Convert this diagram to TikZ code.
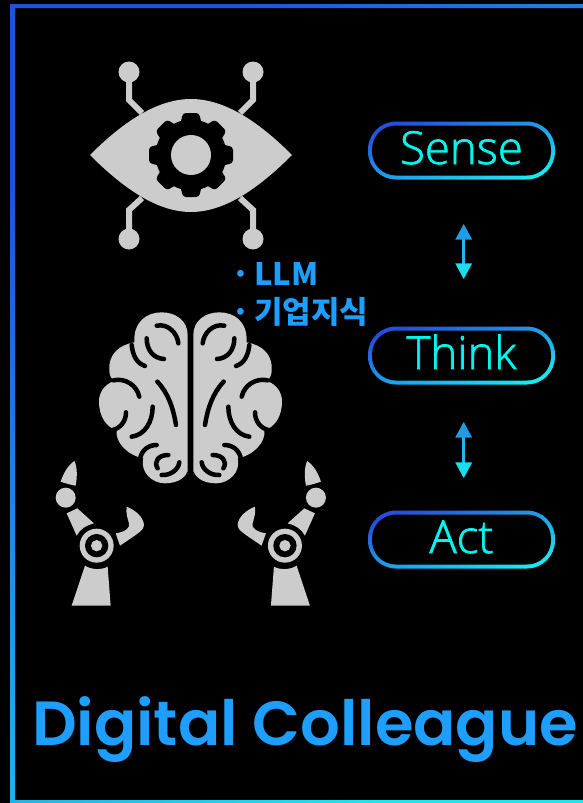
\documentclass[tikz,border=0pt]{standalone}
\usepackage{fontspec}
\usepackage{xcolor}
\usetikzlibrary{arrows.meta}
\newfontfamily\pillfont[FakeBold=1.5]{Open Sans Light}
\newfontfamily\krfont{Noto Sans CJK KR}
\newfontfamily\titlefont{Poppins SemiBold}
\definecolor{iconfill}{HTML}{CCCCCC}
\definecolor{frameblue}{HTML}{2450E0}
\definecolor{framemid}{HTML}{1CA8E8}
\definecolor{pillmid}{HTML}{1CB4EC}
\definecolor{framecyan}{HTML}{18E8F0}
\definecolor{pilltext}{HTML}{00F5EE}
\definecolor{titleblue}{HTML}{1E9FFF}
\definecolor{arrowtop}{HTML}{1F9CE4}
\definecolor{arrowmid}{HTML}{1FB8EA}
\definecolor{arrowbot}{HTML}{1CDCF0}
\tikzset{
    pill/.style={
        rectangle, rounded corners=28pt, minimum width=187pt, minimum height=58pt,
        top color=frameblue, middle color=pillmid, bottom color=framecyan, shading angle=18,
        text=pilltext, text height=32pt, text depth=5pt, font=\pillfont\fontsize{45.5}{45.5}\selectfont,
        path picture={\fill[black, rounded corners=24pt]
            ([shift={(4pt,4pt)}]path picture bounding box.south west) rectangle
            ([shift={(-4pt,-4pt)}]path picture bounding box.north east);}
    },
    dualarrow/.style={
        line width=3.5pt, color=arrowmid,
        {Triangle[length=16pt,width=16pt,color=arrowtop]}-{Triangle[length=16pt,width=16pt,color=arrowbot]}
    },
    point/.style={text=titleblue, font=\krfont\bfseries\fontsize{31}{31}\selectfont, anchor=base west, inner sep=0pt}
}
\begin{document}
\begin{tikzpicture}[x=1pt, y=-1pt]
    \useasboundingbox (0,0) rectangle (583,803);
    \fill[black] (0,0) rectangle (583,803);
    % Outer frame
    \shade[even odd rule, top color=frameblue, middle color=framemid, bottom color=framecyan, shading angle=40]
        (10,4) rectangle (590,809) (15,8) rectangle (590,800);

    % Eye with gear
    \fill[iconfill] (90,155) .. controls (120,125) and (155,99) .. (191,99)
        .. controls (227,99) and (262,125) .. (292,155)
        .. controls (262,185) and (227,212) .. (191,212)
        .. controls (155,212) and (120,185) .. (90,155) -- cycle;
    \foreach \a in {0, 45, ..., 315} {
        \fill[black, shift={(191,155)}, rotate=\a, rounded corners=3pt] (30,-11) -- (42,-8) -- (42,8) -- (30,11) -- cycle;
    }
    \fill[black] (191,155) circle (35.5);
    \fill[iconfill] (191,155) circle (20);
    % Circuit leads
    \foreach \px/\py/\qy/\rx/\ry in {129/72/100/142/113, 253/72/100/240/113, 129/239/210/142/198, 253/239/210/240/198} {
        \fill[iconfill] (\px,\py) circle (10.5);
        \draw[iconfill, line width=6pt] (\px,\py) -- (\px,\qy) -- (\rx,\ry);
    }

    % Brain, one half and its mirror image
    \foreach \sx/\ox in {1/90, -1/291} {
        \begin{scope}[shift={(\ox,255)}, xscale=\sx/3, yscale=1/3]
            \fill[iconfill] (293,660) -- (293,240) .. controls (293,195) and (255,172) .. (215,172)
                .. controls (170,172) and (130,200) .. (133,262)
                .. controls (85,270) and (55,300) .. (58,345) .. controls (58,360) and (62,368) .. (72,378)
                .. controls (40,390) and (27,415) .. (27,440) .. controls (27,485) and (50,518) .. (80,525)
                .. controls (75,560) and (110,600) .. (160,610)
                .. controls (150,650) and (185,685) .. (225,685) .. controls (265,685) and (293,665) .. (293,640) -- cycle;
            \begin{scope}[black, line width=4.5pt, line cap=round]
                \draw (200,212) .. controls (235,205) and (262,235) .. (265,265);
                \draw (170,250) .. controls (170,285) and (190,310) .. (222,312);
                \draw (125,270) .. controls (128,300) and (140,325) .. (165,333);
                \draw (70,376) .. controls (105,368) and (140,390) .. (148,425);
                \draw (202,380) .. controls (235,415) and (250,460) .. (258,510);
                \draw (188,455) .. controls (188,500) and (165,540) .. (125,545);
                \draw (108,472) .. controls (108,500) and (90,520) .. (68,525);
                \draw (200,570) .. controls (175,570) and (155,585) .. (150,612);
                \draw (235,600) .. controls (205,600) and (190,620) .. (203,640);
                \draw (268,622) .. controls (265,645) and (240,662) .. (215,660);
            \end{scope}
        \end{scope}
    }

    % Robot arms, one and its mirror image
    \foreach \sx/\ox in {1/45, -1/336.6} {
        \begin{scope}[shift={(\ox,455)}, xscale=\sx/3, yscale=1/3]
            \fill[iconfill] (80,452) -- (120,332) .. controls (140,345) and (170,345) .. (188,335) -- (197,452) -- cycle;
            \fill[iconfill] (155,272) circle (51);
            \fill[black] (155,272) circle (35);
            \fill[iconfill] (155,272) circle (17);
            \fill[iconfill] (65,175) -- (97,160) -- (147,205) .. controls (125,210) and (105,222) .. (95,242) -- cycle;
            \fill[iconfill] (62,128) circle (30);
            \fill[iconfill] (88,18) .. controls (97,35) and (97,65) .. (92,92) .. controls (78,90) and (62,85) .. (47,80) .. controls (55,55) and (68,32) .. (88,18) -- cycle;
            \fill[iconfill] (245,155) .. controls (270,165) and (295,185) .. (297,210) .. controls (295,225) and (290,228) .. (225,272)
                -- (212,235) .. controls (235,232) and (258,220) .. (252,205) .. controls (248,190) and (242,175) .. (245,155) -- cycle;
        \end{scope}
    }

    % Stages
    \node[pill] (sense) at (461.5,150.5) {Sense};
    \node[pill] (think) at (461.5,355.5) {Think};
    \node[pill] (act) at (461.5,539.5) {Act};
    \draw[dualarrow, shorten <=44pt, shorten >=47pt] ([xshift=2.2pt]sense.south) -- ([xshift=2.2pt]think.north);
    \draw[dualarrow, shorten <=37pt, shorten >=32pt] ([xshift=2.2pt]think.south) -- ([xshift=2.2pt]act.north);

    % Labels
    \node[point] (llm) at (231,285) {·\hspace{-3pt} LLM};
    \node[point] (knowledge) at (231,323) {·\hspace{-3pt} 기업지식};
    \node[text=titleblue, font=\titlefont\fontsize{62.4}{62.4}\selectfont, inner sep=0pt, anchor=base west] (title) at (32,745) {Digital Colleague};
\end{tikzpicture}
\end{document}
